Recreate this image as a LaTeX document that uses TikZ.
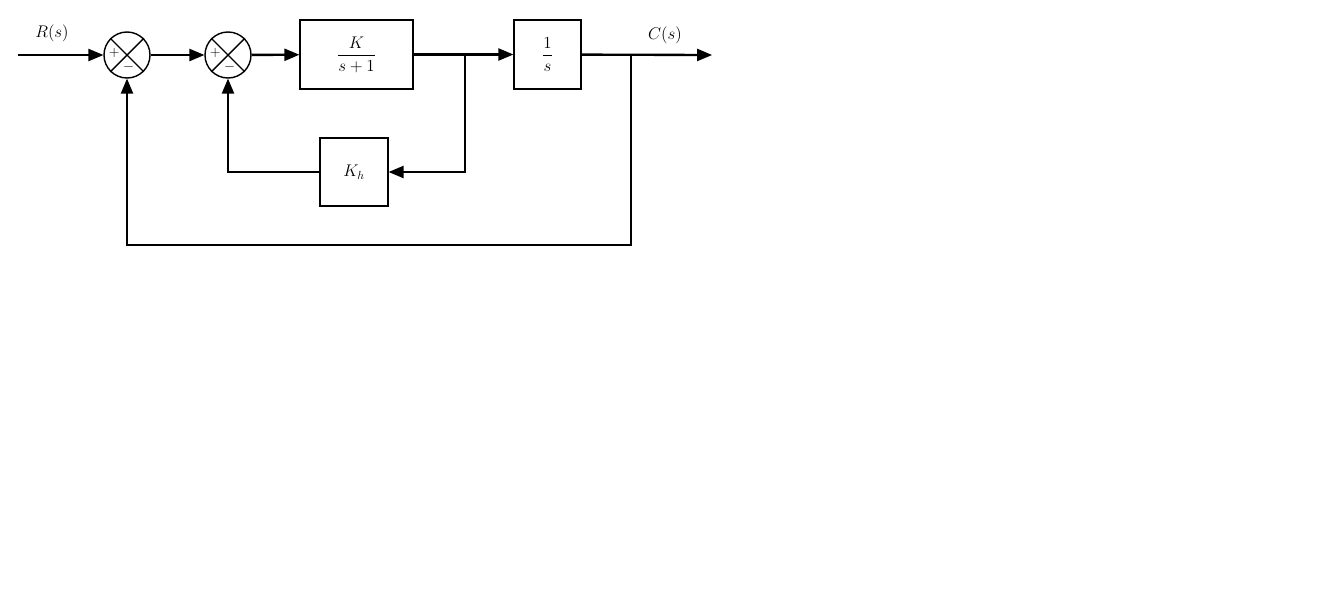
\documentclass[tikz,border=0pt]{standalone}
\usepackage{amsmath}
\usepackage{fontspec}
\setmainfont{Liberation Serif}
\usetikzlibrary{shapes,arrows}

\tikzset{
  blk/.style={draw,line width=1.2pt,minimum width=#1},
  sumnode/.style={draw,circle,line width=1.2pt,minimum size=1.38cm,inner sep=0pt},
  sig/.style={->,line width=2pt},
  lbl/.style={font=\Large}
}

\begin{document}
\begin{tikzpicture}[auto, thick, >=triangle 45, x=0.03cm, y=-0.03cm]
\useasboundingbox (0,0) rectangle (1334,604);

%nodes
				\coordinate (in) at (18,55);
				\node [sumnode] (sa) at (127,55) {};
				\node [sumnode] (sb) at (228,55) {};
				\node [blk=3.39cm,minimum height=2.07cm] (g1) at (356.5,54.5) {\Large $\dfrac{K}{s+1}$};
				\node [blk=2.01cm,minimum height=2.07cm] (g2) at (547.5,54.5) {\Large $\dfrac{1}{s}$};
				\node [blk=2.04cm,minimum height=2.04cm] (kh) at (354,172) {\Large $K_h$};
				\coordinate (br) at (465,55);
				\coordinate (co) at (631,55);
				\coordinate (out) at (712,55);
				\node [lbl] at (52,33) {$R(s)$};
				\node [lbl] at (665,35) {$C(s)$};

%crosses and signs
				\foreach \s in {sa,sb} {
				  \draw [line width=1.2pt] (\s.45) -- (\s.225) (\s.135) -- (\s.315);
				  \node [font=\large] at ([xshift=-0.38cm,yshift=0.05cm]\s.center) {$+$};
				  \node [font=\large] at ([xshift=0.05cm,yshift=-0.36cm]\s.center) {$-$};
				}

%lineas
				\draw [sig] (in) -- (sa);
				\draw [sig] (sa) -- (sb);
				\draw [sig] (sb) -- (g1);
				\draw [sig] (g1) -- (g2);
				\draw [sig] (g2) -- (out);
				\draw [sig] (br) |- (kh);
				\draw [sig] (kh) -| (sb);
				\draw [sig] (co) -- (631,245) -| (sa);

\end{tikzpicture}
\end{document}
